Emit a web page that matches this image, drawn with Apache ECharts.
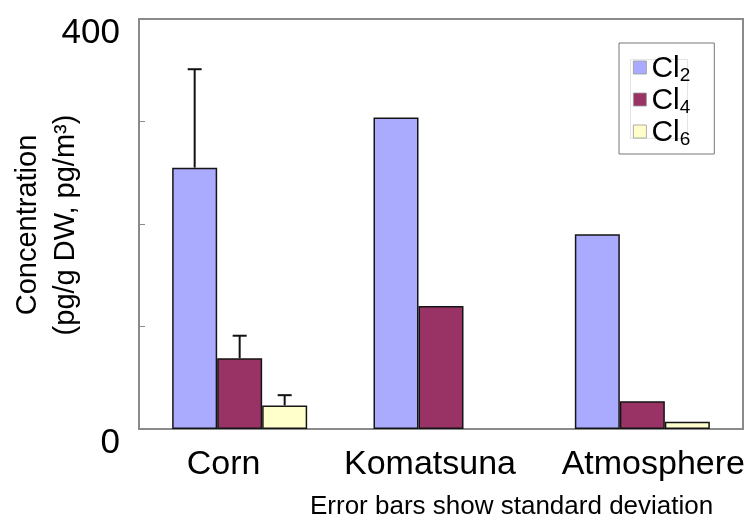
<!DOCTYPE html>
<html>
<head>
<meta charset="utf-8">
<script src="https://cdn.jsdelivr.net/npm/echarts@6/dist/echarts.min.js"></script>
<style>
html,body{margin:0;padding:0;background:#fff;}
#c{width:749px;height:522px;}
</style>
</head>
<body>
<div id="c"></div>
<script>
const categories = ['Corn', 'Komatsuna', 'Atmosphere'];
const seriesNames = ['Cl2', 'Cl4', 'Cl6'];
const cl2 = [255, 304, 190];
const cl4 = [69, 120, 27];
const cl6 = [23, null, 7];
const cl2Err = [96, null, null];
const cl4Err = [22, null, null];
const cl6Err = [10, null, null];
const yTickLabels = ['0', '400'];

const colors = ['#aaaaff', '#993366', '#ffffcc'];
const BAR_W = 45;
const FONT = '"Liberation Sans", Arial, Helvetica, sans-serif';
// horizontal nudges of the category labels (style only)
const labelPad = [[0, 32, 0, 0], [0, 22, 0, 0], [0, 0, 0, 22]];

const values = [cl2, cl4, cl6];
const errs = [cl2Err, cl4Err, cl6Err];

const chart = echarts.init(document.getElementById('c'));

const barSeries = seriesNames.map((n, i) => ({
  name: n,
  type: 'bar',
  barWidth: BAR_W,
  barGap: '0%',
  data: values[i],
  itemStyle: { color: colors[i], borderColor: '#151515', borderWidth: 1.5 },
  emphasis: { disabled: true },
  z: 2
}));

const errSeries = seriesNames.map((n, i) => ({
  name: 'err' + i,
  type: 'custom',
  z: 1,
  data: categories.map((c, k) => errs[i][k] == null ? null : [k, values[i][k], errs[i][k]]).filter(d => d),
  renderItem: function (params, api) {
    const k = api.value(0), v = api.value(1), e = api.value(2);
    const base = api.coord([k, v]);
    const top = api.coord([k, v + e]);
    const x = base[0] + (i - 1) * BAR_W;
    const cap = 7;
    return {
      type: 'group',
      children: [
        { type: 'line', shape: { x1: x, y1: base[1], x2: x, y2: top[1] }, style: { stroke: '#111', lineWidth: 2 } },
        { type: 'line', shape: { x1: x - cap, y1: top[1], x2: x + cap, y2: top[1] }, style: { stroke: '#111', lineWidth: 2 } }
      ]
    };
  }
}));

chart.setOption({
  animation: false,
  textStyle: { fontFamily: FONT },
  grid: {
    left: 139, top: 19, right: 6, bottom: 93,
    show: true, borderColor: '#8a8a8a', borderWidth: 2, backgroundColor: '#fff'
  },
  legend: {
    data: seriesNames,
    orient: 'vertical',
    left: 619, top: 43,
    padding: [7, 24, 5, 14],
    itemGap: -3,
    itemWidth: 13, itemHeight: 13,
    icon: 'rect',
    borderColor: '#777', borderWidth: 1,
    backgroundColor: 'transparent',
    itemStyle: { borderWidth: 0.8, borderColor: '#999' },
    formatter: function (name) { return '{a|Cl}{s|' + name.slice(2) + '}'; },
    textStyle: {
      fontFamily: FONT, fontSize: 30, color: '#000',
      rich: {
        a: { fontSize: 30, color: '#000', fontFamily: FONT, lineHeight: 28, verticalAlign: 'top' },
        s: { fontSize: 19, color: '#000', fontFamily: FONT, lineHeight: 18, padding: [16, 0, 0, 0] }
      }
    }
  },
  xAxis: {
    type: 'category',
    data: categories.map((c, k) => ({ value: c, textStyle: { padding: labelPad[k] } })),
    axisLine: { show: true, lineStyle: { color: '#8a8a8a', width: 2 } },
    axisTick: { show: false },
    axisLabel: { fontSize: 34, color: '#000', margin: 19, fontFamily: FONT, interval: 0 },
    splitLine: { show: false }
  },
  yAxis: {
    type: 'value',
    min: 0, max: 400, interval: 100,
    axisLine: { show: true, lineStyle: { color: '#8a8a8a', width: 2 } },
    axisTick: { show: true, inside: true, length: 6, lineStyle: { color: '#8a8a8a', width: 1 } },
    splitLine: { show: false },
    axisLabel: {
      fontSize: 35, color: '#000', margin: 19, fontFamily: FONT,
      verticalAlign: 'top', lineHeight: 28,
      formatter: function (v) { const s = String(v); return yTickLabels.indexOf(s) >= 0 ? s : ''; }
    }
  },
  graphic: [
    {
      type: 'rect', left: 628, top: 57, z: 3, silent: true,
      shape: { width: 57, height: 79 },
      style: { fill: 'none', stroke: '#e4e4e4', lineWidth: 1 }
    },
    {
      type: 'text', x: 47, y: 225, rotation: Math.PI / 2,
      style: {
        text: 'Concentration\n(pg/g DW, pg/m³)',
        font: '29px ' + FONT, fill: '#000',
        align: 'center', verticalAlign: 'middle', lineHeight: 38
      }
    },
    {
      type: 'text', left: 310, top: 494,
      style: { text: 'Error bars show standard deviation', font: '26px ' + FONT, fill: '#000' }
    }
  ],
  series: barSeries.concat(errSeries)
});
</script>
</body>
</html>
